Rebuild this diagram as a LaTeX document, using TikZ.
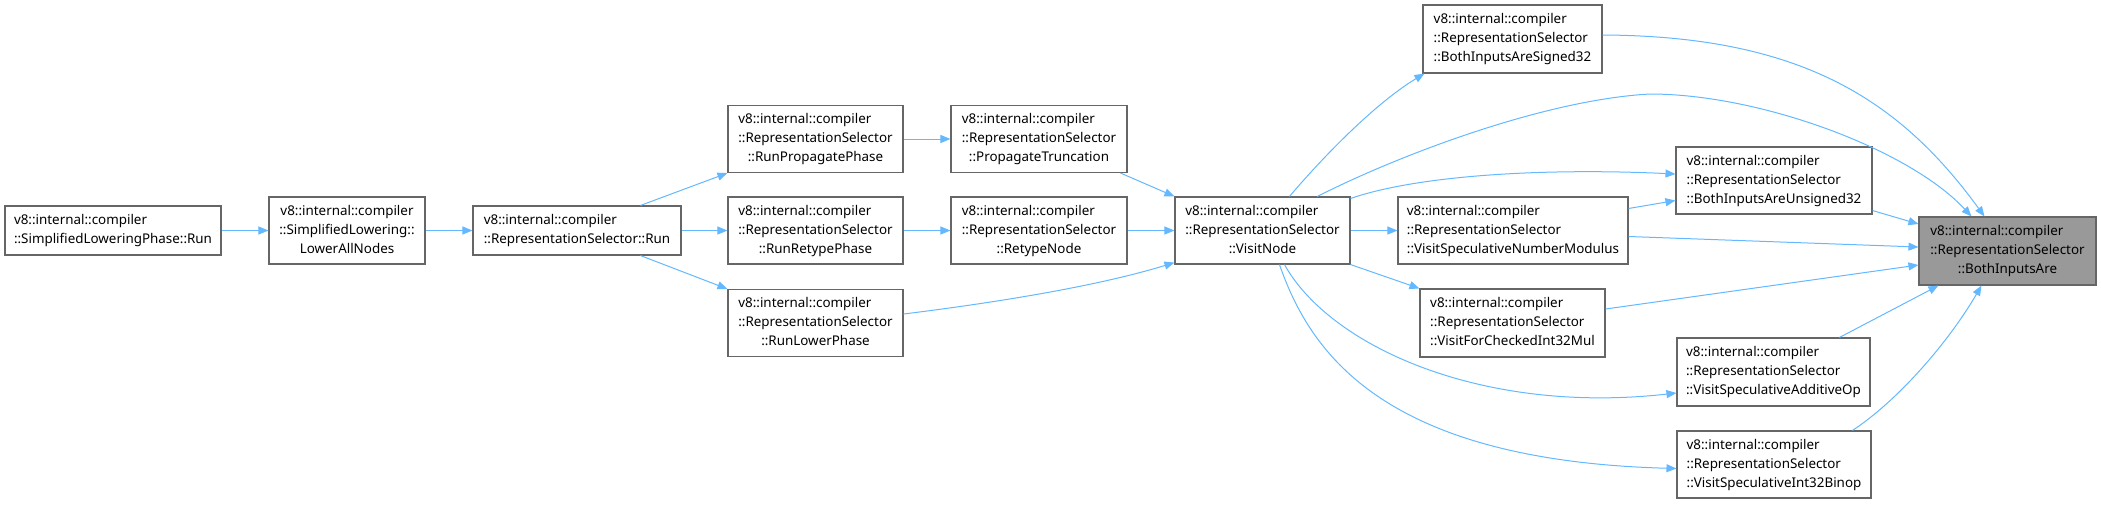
\documentclass[tikz,border=0pt]{standalone}
\usepackage{fontspec}
\setmainfont{Noto Sans}
\usetikzlibrary{arrows.meta}
\definecolor{edgeblue}{HTML}{63B8FF}
\definecolor{boxborder}{HTML}{666666}
\definecolor{grayfill}{HTML}{999999}
\newcommand\lblL[3]{\begin{tabular}{@{}l@{}}#1\\#2\\\multicolumn{1}{@{}c@{}}{#3}\end{tabular}}
\newcommand\lblT[2]{\begin{tabular}{@{}l@{}}#1\\#2\end{tabular}}
\newcommand\lblC[3]{\begin{tabular}{@{}c@{}}#1\\#2\\#3\end{tabular}}
\tikzset{
  fn/.style={draw=boxborder, line width=1.1pt, fill=white, inner sep=0pt, rectangle,
    font=\fontsize{13.4}{19}\selectfont, text=black},
  cur/.style={fn, fill=grayfill},
  call/.style={draw=edgeblue, line width=1pt, -{Triangle[length=10pt,width=8pt]}},
}
\begin{document}
\begin{tikzpicture}[x=1pt,y=-1pt]
\useasboundingbox (0,0) rectangle (2101,504);
% nodes
\node[fn, minimum width=216pt, minimum height=49pt] (slp) at (113,230.5) {\lblT{v8::internal::compiler}{::SimplifiedLoweringPhase::Run}};
\node[fn, minimum width=156pt, minimum height=67pt] (lan) at (347,230.5) {\lblC{v8::internal::compiler}{::SimplifiedLowering::}{LowerAllNodes}};
\node[fn, minimum width=208pt, minimum height=49pt] (rsr) at (577,230.5) {\lblT{v8::internal::compiler}{::RepresentationSelector::Run}};
\node[fn, minimum width=175pt, minimum height=67pt] (rpp) at (815.5,139) {\lblL{v8::internal::compiler}{::RepresentationSelector}{::RunPropagatePhase}};
\node[fn, minimum width=175pt, minimum height=67pt] (rrp) at (815.5,230.5) {\lblL{v8::internal::compiler}{::RepresentationSelector}{::RunRetypePhase}};
\node[fn, minimum width=175pt, minimum height=67pt] (rlp) at (815.5,323) {\lblL{v8::internal::compiler}{::RepresentationSelector}{::RunLowerPhase}};
\node[fn, minimum width=176pt, minimum height=67pt] (ptr) at (1039,139) {\lblL{v8::internal::compiler}{::RepresentationSelector}{::PropagateTruncation}};
\node[fn, minimum width=176pt, minimum height=67pt] (rtn) at (1039,230.5) {\lblL{v8::internal::compiler}{::RepresentationSelector}{::RetypeNode}};
\node[fn, minimum width=175pt, minimum height=67pt] (vn) at (1262.5,230.5) {\lblL{v8::internal::compiler}{::RepresentationSelector}{::VisitNode}};
\node[fn, minimum width=179pt, minimum height=68pt] (s32) at (1512.5,39) {\lblL{v8::internal::compiler}{::RepresentationSelector}{::BothInputsAreSigned32}};
\node[fn, minimum width=230pt, minimum height=67pt] (vsnm) at (1513,230.5) {\lblL{v8::internal::compiler}{::RepresentationSelector}{::VisitSpeculativeNumberModulus}};
\node[fn, minimum width=196pt, minimum height=67pt] (u32) at (1774,180.5) {\lblL{v8::internal::compiler}{::RepresentationSelector}{::BothInputsAreUnsigned32}};
\node[fn, minimum width=185pt, minimum height=68pt] (mul) at (1512.5,323) {\lblL{v8::internal::compiler}{::RepresentationSelector}{::VisitForCheckedInt32Mul}};
\node[fn, minimum width=193pt, minimum height=68pt] (add) at (1773.5,372) {\lblL{v8::internal::compiler}{::RepresentationSelector}{::VisitSpeculativeAdditiveOp}};
\node[fn, minimum width=194pt, minimum height=67pt] (bin) at (1774,464.5) {\lblL{v8::internal::compiler}{::RepresentationSelector}{::VisitSpeculativeInt32Binop}};
\node[cur, minimum width=177pt, minimum height=68pt] (bia) at (2007.5,251) {\lblL{v8::internal::compiler}{::RepresentationSelector}{::BothInputsAre}};
\coordinate (pk) at (1650,94);
% edges
\draw[call] (slp.east) -- (lan.west);
\draw[call] (lan.east) -- (rsr.west);
\draw[call] ([xshift=168pt]rsr.north west) -- (rpp.south west);
\draw[call] (rsr.east) -- (rrp.west);
\draw[call] ([xshift=168pt]rsr.south west) -- (rlp.north west);
\draw[call] (rpp.east) -- (ptr.west);
\draw[call] (rrp.east) -- (rtn.west);
\draw[call] ([xshift=-7pt]ptr.south east) -- (vn.north west);
\draw[call] (rtn.east) -- (vn.west);
\draw[call] ([yshift=9pt]rlp.east) .. controls +(97,-12) and +(-75,23) .. ([yshift=2pt]vn.south west);
\draw[call] ([xshift=115pt]vn.north west) .. controls +(40,-47) and +(-45,27) .. ([xshift=2pt]s32.south west);
\draw[call] ([xshift=143pt]vn.north west) .. controls +(72,-37) and +(-110,6) .. (pk) .. controls +(110,0) and +(-62,-67) .. ([xshift=53pt]bia.north west);
\draw[call] ([yshift=-2pt]vn.north east) .. controls +(70,-24) and +(-126,-6) .. ([yshift=6.5pt]u32.west);
\draw[call] (vn.east) -- (vsnm.west);
\draw[call] (vn.south east) -- (mul.north west);
\draw[call] ([xshift=110pt]vn.south west) .. controls +(45,81) and +(-196,22) .. ([yshift=-21pt]add.west);
\draw[call] ([xshift=105pt]vn.south west) .. controls +(30,86) and +(-296,-8) .. ([yshift=-4pt]bin.west);
\draw[call] ([yshift=4pt]s32.east) .. controls +(198,1) and +(-85,-117) .. ([xshift=66pt]bia.north west);
\draw[call] ([yshift=4pt]u32.south east) -- ([yshift=27pt]bia.west);
\draw[call] ([yshift=22pt]vsnm.east) -- ([yshift=-20pt]u32.west);
\draw[call] ([yshift=-6pt]vsnm.east) -- ([yshift=4pt]bia.west);
\draw[call] ([yshift=14pt]mul.east) -- ([yshift=-14pt]bia.west);
\draw[call] ([xshift=163pt]add.north west) -- ([xshift=20pt]bia.south west);
\draw[call] ([xshift=176pt]bin.north west) .. controls +(47,-31) and +(-32,55) .. ([xshift=63pt]bia.south west);
\end{tikzpicture}
\end{document}
